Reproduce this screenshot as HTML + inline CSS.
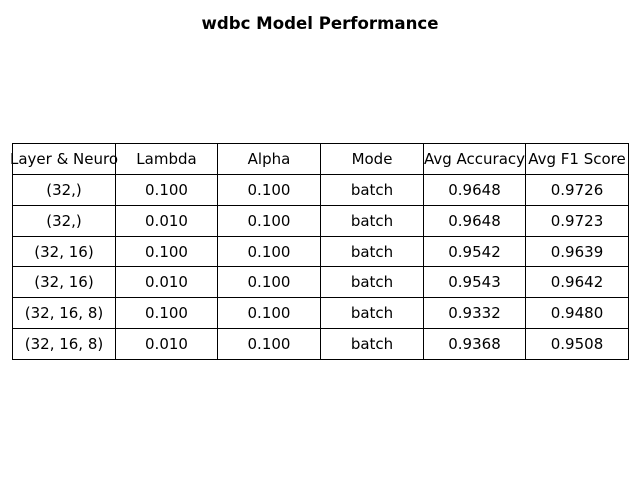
<!DOCTYPE html>
<html><head><meta charset="utf-8"><style>
body{margin:0;background:#fff;width:640px;height:480px;position:relative;overflow:hidden;font-family:"DejaVu Sans","Liberation Sans",sans-serif}
#title{position:absolute;top:14px;left:0;width:640px;text-align:center;font-weight:bold;font-size:16.6px}
.cell{position:absolute;box-sizing:border-box;border:1px solid #000;display:flex;align-items:center;justify-content:center;font-size:15px;white-space:nowrap;overflow:visible}
</style></head><body>
<div id="title">wdbc Model Performance</div>
<div id="tbl"></div>
<script>
const headers=["Layer & Neuro","Lambda","Alpha","Mode","Avg Accuracy","Avg F1 Score"];
const layers=["(32,)","(32,)","(32, 16)","(32, 16)","(32, 16, 8)","(32, 16, 8)"];
const lambdas=["0.100","0.010","0.100","0.010","0.100","0.010"];
const alphas=["0.100","0.100","0.100","0.100","0.100","0.100"];
const modes=["batch","batch","batch","batch","batch","batch"];
const accs=["0.9648","0.9648","0.9542","0.9543","0.9332","0.9368"];
const f1s=["0.9726","0.9723","0.9639","0.9642","0.9480","0.9508"];
const tbl=document.getElementById('tbl');
const L=12,T=143,W=616,H=216;
const rows=[headers];
for(let i=0;i<layers.length;i++)rows.push([layers[i],lambdas[i],alphas[i],modes[i],accs[i],f1s[i]]);
const cw=W/6,rh=H/rows.length;
rows.forEach((r,i)=>r.forEach((c,j)=>{
  const d=document.createElement('div');
  d.className='cell';
  
  
  const x0=Math.round(L+j*cw),x1=Math.round(L+(j+1)*cw),y0=Math.round(T+i*rh),y1=Math.round(T+(i+1)*rh);
  d.style.left=x0+'px';d.style.top=y0+'px';d.style.width=(x1-x0+1)+'px';d.style.height=(y1-y0+1)+'px';
  d.textContent=c;tbl.appendChild(d);
}));
</script>
</body></html>
